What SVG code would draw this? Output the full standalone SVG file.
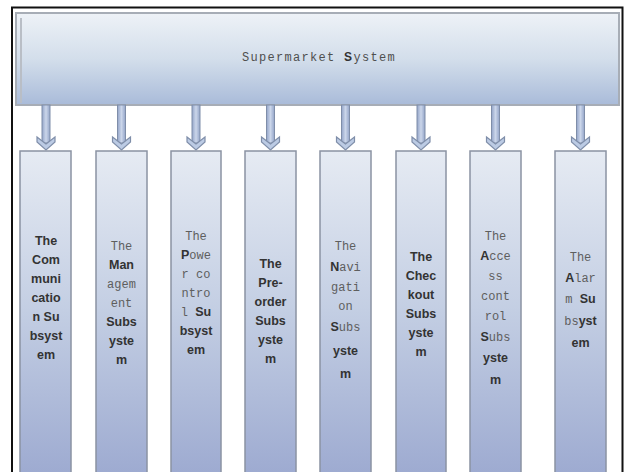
<svg xmlns="http://www.w3.org/2000/svg" width="625" height="472" viewBox="0 0 625 472">
<defs>
<linearGradient id="gTop" x1="0" y1="0" x2="0" y2="1">
<stop offset="0" stop-color="#eef2f7"/>
<stop offset="0.5" stop-color="#d3deeb"/>
<stop offset="1" stop-color="#a9bbd9"/>
</linearGradient>
<linearGradient id="gCol" gradientUnits="userSpaceOnUse" x1="0" y1="150" x2="0" y2="472">
<stop offset="0" stop-color="#e6ebf3"/>
<stop offset="0.5" stop-color="#c3cee3"/>
<stop offset="1" stop-color="#9eabd1"/>
</linearGradient>
<linearGradient id="gArr" x1="0" y1="0" x2="1" y2="0">
<stop offset="0" stop-color="#93a4c8"/>
<stop offset="0.5" stop-color="#cbd6ea"/>
<stop offset="1" stop-color="#93a4c8"/>
</linearGradient>
</defs>
<style>
.col{fill:url(#gCol);stroke:#8b93a3;stroke-width:1.5}
.b{font-family:"Liberation Sans",Arial,sans-serif;font-weight:bold;font-size:12.5px;fill:#333}
.m{font-family:"Liberation Mono","Courier New",monospace;font-size:12px;fill:#5e5e5e;font-weight:normal}
.t{text-anchor:middle}
.shaft{fill:url(#gArr);stroke:#7f8ea9;stroke-width:1}
.head{fill:#bccbe4;stroke:#7f8ea9;stroke-width:1.2}
</style>
<rect x="0" y="0" width="625" height="472" fill="#ffffff"/>
<path d="M12,472 V7.5 H622.5 V472" fill="none" stroke="#111" stroke-width="2"/>

<g id="supermarket">
<rect x="16" y="13" width="603" height="92" fill="url(#gTop)" stroke="#a7adb6" stroke-width="2"/>
<line x1="21" y1="18" x2="21" y2="103" stroke="#b9bec6" stroke-width="2"/>
<text x="319" y="61" class="t" font-family="Liberation Mono,monospace" font-size="12" letter-spacing="1.3" fill="#4f4f4f">Supermarket <tspan font-family="Liberation Sans,sans-serif" font-weight="bold" fill="#333">S</tspan>ystem</text>
</g>

<g id="connectors">
<g transform="translate(46,0)"><rect class="shaft" x="-4" y="105" width="8" height="38"/><polygon class="head" points="-9,137 0,144 9,137 9,142 0,150 -9,142"/></g>
<g transform="translate(121.5,0)"><rect class="shaft" x="-4" y="105" width="8" height="38"/><polygon class="head" points="-9,137 0,144 9,137 9,142 0,150 -9,142"/></g>
<g transform="translate(196,0)"><rect class="shaft" x="-4" y="105" width="8" height="38"/><polygon class="head" points="-9,137 0,144 9,137 9,142 0,150 -9,142"/></g>
<g transform="translate(270.5,0)"><rect class="shaft" x="-4" y="105" width="8" height="38"/><polygon class="head" points="-9,137 0,144 9,137 9,142 0,150 -9,142"/></g>
<g transform="translate(345.5,0)"><rect class="shaft" x="-4" y="105" width="8" height="38"/><polygon class="head" points="-9,137 0,144 9,137 9,142 0,150 -9,142"/></g>
<g transform="translate(421,0)"><rect class="shaft" x="-4" y="105" width="8" height="38"/><polygon class="head" points="-9,137 0,144 9,137 9,142 0,150 -9,142"/></g>
<g transform="translate(495.5,0)"><rect class="shaft" x="-4" y="105" width="8" height="38"/><polygon class="head" points="-9,137 0,144 9,137 9,142 0,150 -9,142"/></g>
<g transform="translate(580.5,0)"><rect class="shaft" x="-4" y="105" width="8" height="38"/><polygon class="head" points="-9,137 0,144 9,137 9,142 0,150 -9,142"/></g>
</g>

<g id="communication">
<rect class="col" x="20" y="151" width="51" height="330"/>
<text class="b t" x="46" y="245">The</text>
<text class="b t" x="46" y="264">Com</text>
<text class="b t" x="46" y="283">muni</text>
<text class="b t" x="46" y="302">catio</text>
<text class="b t" x="46" y="321">n Su</text>
<text class="b t" x="46" y="340">bsyst</text>
<text class="b t" x="46" y="359">em</text>
</g>

<g id="management">
<rect class="col" x="96" y="151" width="51" height="330"/>
<text class="m t" x="121.5" y="250">The</text>
<text class="b t" x="121.5" y="269">Man</text>
<text class="m t" x="121.5" y="288">agem</text>
<text class="m t" x="121.5" y="307">ent</text>
<text class="b t" x="121.5" y="326">Subs</text>
<text class="b t" x="121.5" y="345">yste</text>
<text class="b t" x="121.5" y="364">m</text>
</g>

<g id="power">
<rect class="col" x="171" y="151" width="50" height="330"/>
<text class="m t" x="196" y="240">The</text>
<text class="b t" x="196" y="259">P<tspan class="m">owe</tspan></text>
<text class="m t" x="196" y="278">r co</text>
<text class="m t" x="196" y="297">ntro</text>
<text class="m t" x="196" y="316">l <tspan class="b">Su</tspan></text>
<text class="b t" x="196" y="335">bsyst</text>
<text class="b t" x="196" y="354">em</text>
</g>

<g id="preorder">
<rect class="col" x="245" y="151" width="51" height="330"/>
<text class="b t" x="270.5" y="268">The</text>
<text class="b t" x="270.5" y="287">Pre-</text>
<text class="b t" x="270.5" y="306">order</text>
<text class="b t" x="270.5" y="325">Subs</text>
<text class="b t" x="270.5" y="344">yste</text>
<text class="b t" x="270.5" y="363">m</text>
</g>

<g id="navigation">
<rect class="col" x="320" y="151" width="51" height="330"/>
<text class="m t" x="345.5" y="250">The</text>
<text class="b t" x="345.5" y="271">N<tspan class="m">avi</tspan></text>
<text class="m t" x="345.5" y="291">gati</text>
<text class="m t" x="345.5" y="310">on</text>
<text class="b t" x="345.5" y="331">S<tspan class="m">ubs</tspan></text>
<text class="b t" x="345.5" y="355">yste</text>
<text class="b t" x="345.5" y="378">m</text>
</g>

<g id="checkout">
<rect class="col" x="396" y="151" width="50" height="330"/>
<text class="b t" x="421" y="261">The</text>
<text class="b t" x="421" y="280">Chec</text>
<text class="b t" x="421" y="299">kout</text>
<text class="b t" x="421" y="318">Subs</text>
<text class="b t" x="421" y="337">yste</text>
<text class="b t" x="421" y="356">m</text>
</g>

<g id="access">
<rect class="col" x="470" y="151" width="51" height="330"/>
<text class="m t" x="495.5" y="240">The</text>
<text class="b t" x="495.5" y="260">A<tspan class="m">cce</tspan></text>
<text class="m t" x="495.5" y="280">ss</text>
<text class="m t" x="495.5" y="300">cont</text>
<text class="m t" x="495.5" y="320">rol</text>
<text class="b t" x="495.5" y="341">S<tspan class="m">ubs</tspan></text>
<text class="b t" x="495.5" y="362">yste</text>
<text class="b t" x="495.5" y="384">m</text>
</g>

<g id="alarm">
<rect class="col" x="555" y="151" width="51" height="330"/>
<text class="m t" x="580.5" y="261">The</text>
<text class="b t" x="580.5" y="282">A<tspan class="m">lar</tspan></text>
<text class="m t" x="580.5" y="303">m <tspan class="b">Su</tspan></text>
<text class="m t" x="580.5" y="325">bs<tspan class="b">yst</tspan></text>
<text class="b t" x="580.5" y="347">em</text>
</g>
</svg>
